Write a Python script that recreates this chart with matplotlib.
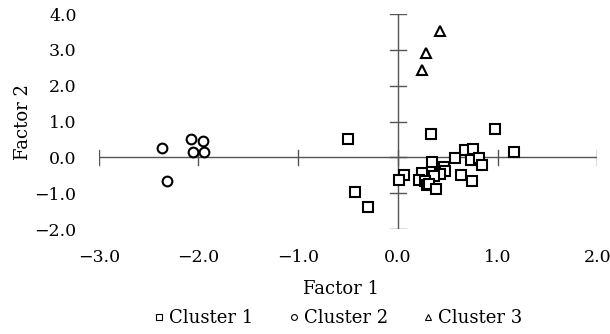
import matplotlib; matplotlib.use("Agg"); import matplotlib.pyplot as plt
import numpy as np

# ═══════ Data ═══════
c1_x = [-0.50, 0.33, 0.97, 1.17, 0.67, 0.75, 0.57, 0.73, 0.81, 0.84, 0.34, 0.46, 0.47,
        0.42, 0.36, 0.63, 0.74, 0.06, 0.01, 0.24, 0.21, 0.27, 0.29, 0.31, 0.38, -0.43, -0.30]
c1_y = [0.51, 0.64, 0.80, 0.15, 0.20, 0.24, -0.02, -0.07, -0.01, -0.22, -0.14, -0.27, -0.38,
        -0.47, -0.52, -0.48, -0.67, -0.49, -0.63, -0.43, -0.62, -0.66, -0.78, -0.73, -0.87, -0.97, -1.37]
c2_x = [-2.37, -2.08, -1.95, -2.06, -1.94, -2.32]
c2_y = [0.27, 0.52, 0.46, 0.15, 0.15, -0.66]
c3_x = [0.42, 0.28, 0.24]
c3_y = [3.53, 2.90, 2.43]

x_ticks = [-3.0, -2.0, -1.0, 0.0, 1.0, 2.0]
y_ticks = [-2.0, -1.0, 0.0, 1.0, 2.0, 3.0, 4.0]

plt.rcParams["font.family"] = ["DejaVu Serif"]
plt.rcParams["font.size"] = 13

fig = plt.figure(figsize=(6.10, 3.34), dpi=100)
ax = fig.add_axes([0.162, 0.314, 0.817, 0.644])

axis_col = "#555555"
ax.axhline(0, color=axis_col, lw=1.0, zorder=1)
ax.axvline(0, color=axis_col, lw=1.0, zorder=1)
# cross-style ticks on the zero lines
for t in x_ticks:
    ax.plot([t, t], [-0.22, 0.22], color=axis_col, lw=1.0, zorder=1)
for t in y_ticks:
    ax.plot([-0.08, 0.08], [t, t], color=axis_col, lw=1.0, zorder=1)

mk = dict(linestyle="none", markerfacecolor="white", markeredgecolor="black", markeredgewidth=1.5)
ax.plot(c1_x, c1_y, marker="s", markersize=7.5, label="Cluster 1", **mk)
ax.plot(c2_x, c2_y, marker="o", markersize=7, label="Cluster 2", **mk)
ax.plot(c3_x, c3_y, marker="^", markersize=6.5, label="Cluster 3", **mk)

ax.set_xlim(-3.0, 2.0)
ax.set_ylim(-2.0, 4.0)
ax.set_xticks(x_ticks)
ax.set_yticks(y_ticks)
ax.set_xticklabels([f"{t:.1f}".replace("-", "\u2212") for t in x_ticks])
ax.set_yticklabels([f"{t:.1f}".replace("-", "\u2212") for t in y_ticks])
ax.tick_params(length=0, labelsize=12.5)
ax.tick_params(axis="y", pad=16)
ax.tick_params(axis="x", pad=14)
for s in ax.spines.values():
    s.set_visible(False)

ax.set_xlabel("Factor 1")
ax.xaxis.set_label_coords(0.485, -0.235)
ax.set_ylabel("Factor 2")
ax.yaxis.set_label_coords(-0.135, 0.5)

leg = fig.legend(loc="center", bbox_to_anchor=(0.555, 0.047), ncol=3, frameon=False,
                 markerscale=0.6, handlelength=0.5, handletextpad=0.3, columnspacing=2.0)
for h in leg.legend_handles:
    h.set_markeredgewidth(0.8)

plt.savefig("out.png", dpi=100)
